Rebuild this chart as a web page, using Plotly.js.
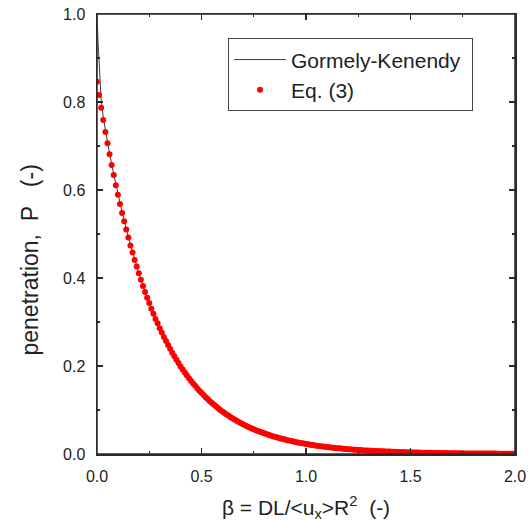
<!DOCTYPE html>
<html>
<head>
<meta charset="utf-8">
<script src="https://cdn.plot.ly/plotly-3.0.1.min.js"></script>
<style>html,body{margin:0;padding:0;background:#fff;}#chart{width:532px;height:528px;}</style>
</head>
<body>
<div id="chart"></div>
<script>
// Gormely-Kenendy curve
const betaGK = [0, 0.001, 0.003, 0.005, 0.008, 0.012, 0.016, 0.02, 0.03, 0.04, 0.05, 0.06, 0.08, 0.1, 0.12, 0.15, 0.2, 0.25, 0.3, 0.35, 0.4, 0.5, 0.6, 0.7, 0.8, 0.9, 1.0, 1.2, 1.4, 1.6, 1.8, 2.0];
const penGK  = [1.0, 0.975, 0.95, 0.935, 0.91, 0.87, 0.835, 0.805, 0.765, 0.735, 0.708, 0.683, 0.636, 0.592, 0.550, 0.493, 0.411, 0.342, 0.286, 0.238, 0.199, 0.137, 0.095, 0.066, 0.046, 0.032, 0.022, 0.011, 0.0053, 0.0026, 0.0012, 0.0006];

// Eq. (3) points
const betaEq3 = [
0.00,0.01,0.02,0.03,0.04,0.05,0.06,0.07,0.08,0.09,
0.10,0.11,0.12,0.13,0.14,0.15,0.16,0.17,0.18,0.19,
0.20,0.21,0.22,0.23,0.24,0.25,0.26,0.27,0.28,0.29,
0.30,0.31,0.32,0.33,0.34,0.35,0.36,0.37,0.38,0.39,
0.40,0.41,0.42,0.43,0.44,0.45,0.46,0.47,0.48,0.49,
0.50,0.51,0.52,0.53,0.54,0.55,0.56,0.57,0.58,0.59,
0.60,0.61,0.62,0.63,0.64,0.65,0.66,0.67,0.68,0.69,
0.70,0.71,0.72,0.73,0.74,0.75,0.76,0.77,0.78,0.79,
0.80,0.81,0.82,0.83,0.84,0.85,0.86,0.87,0.88,0.89,
0.90,0.91,0.92,0.93,0.94,0.95,0.96,0.97,0.98,0.99,
1.00,1.01,1.02,1.03,1.04,1.05,1.06,1.07,1.08,1.09,
1.10,1.11,1.12,1.13,1.14,1.15,1.16,1.17,1.18,1.19,
1.20,1.21,1.22,1.23,1.24,1.25,1.26,1.27,1.28,1.29,
1.30,1.31,1.32,1.33,1.34,1.35,1.36,1.37,1.38,1.39,
1.40,1.41,1.42,1.43,1.44,1.45,1.46,1.47,1.48,1.49,
1.50,1.51,1.52,1.53,1.54,1.55,1.56,1.57,1.58,1.59,
1.60,1.61,1.62,1.63,1.64,1.65,1.66,1.67,1.68,1.69,
1.70,1.71,1.72,1.73,1.74,1.75,1.76,1.77,1.78,1.79,
1.80,1.81,1.82,1.83,1.84,1.85,1.86,1.87,1.88,1.89,
1.90,1.91,1.92,1.93,1.94,1.95,1.96,1.97,1.98,1.99,
2.00];
const penEq3 = [
0.846,0.816,0.787,0.759,0.732,0.706,0.681,0.657,0.634,0.611,
0.589,0.568,0.548,0.529,0.510,0.492,0.474,0.458,0.441,0.426,
0.411,0.396,0.382,0.368,0.355,0.343,0.330,0.319,0.307,0.297,
0.286,0.276,0.266,0.257,0.248,0.239,0.230,0.222,0.214,0.207,
0.199,0.192,0.185,0.179,0.172,0.166,0.160,0.155,0.149,0.144,
0.139,0.134,0.129,0.125,0.120,0.116,0.112,0.108,0.104,0.100,
0.0967,0.0933,0.0900,0.0868,0.0837,0.0807,0.0779,0.0751,0.0724,0.0699,
0.0673,0.0649,0.0626,0.0604,0.0582,0.0562,0.0542,0.0523,0.0504,0.0486,
0.0469,0.0452,0.0436,0.0421,0.0406,0.0391,0.0378,0.0364,0.0351,0.0339,
0.0327,0.0315,0.0304,0.0293,0.0283,0.0273,0.0263,0.0254,0.0245,0.0236,
0.0228,0.0220,0.0212,0.0205,0.0197,0.0190,0.0184,0.0177,0.0171,0.0165,
0.0159,0.0153,0.0148,0.0143,0.0138,0.0133,0.0128,0.0123,0.0119,0.0115,
0.0110,0.0106,0.0102,0.0099,0.0095,0.0092,0.0089,0.0085,0.0082,0.0079,
0.0077,0.0074,0.0072,0.0069,0.0067,0.0064,0.0062,0.0060,0.0058,0.0056,
0.0054,0.0052,0.0050,0.0048,0.0047,0.0045,0.0043,0.0042,0.0040,0.0039,
0.0037,0.0036,0.0034,0.0033,0.0032,0.0031,0.0030,0.0029,0.0028,0.0027,
0.0026,0.0025,0.0024,0.0023,0.0022,0.0022,0.0021,0.0020,0.0019,0.0019,
0.0018,0.0017,0.0017,0.0016,0.0016,0.0015,0.0014,0.0014,0.0013,0.0013,
0.0013,0.0012,0.0012,0.0011,0.0011,0.0010,0.0010,0.0010,0.0009,0.0009,
0.0009,0.0009,0.0008,0.0008,0.0008,0.0007,0.0007,0.0007,0.0007,0.0006,
0.0006];

const xTickVals = [0, 0.5, 1.0, 1.5, 2.0];
const xTickText = ["0.0", "0.5", "1.0", "1.5", "2.0"];
const yTickVals = [0, 0.2, 0.4, 0.6, 0.8, 1.0];
const yTickText = ["0.0", "0.2", "0.4", "0.6", "0.8", "1.0"];

const axisColor = '#2b2b2b';
const font = 'Arial, "Liberation Sans", sans-serif';

const traces = [
  {
    x: betaGK, y: penGK, type: 'scatter', mode: 'lines', name: 'Gormely-Kenendy&nbsp;',
    line: {color: '#3a3a3a', width: 1}
  },
  {
    x: betaEq3, y: penEq3, type: 'scatter', mode: 'markers', name: 'Eq. (3)',
    marker: {color: '#ff0000', size: 6, line: {width: 0}}
  }
];

const commonAxis = {
  showgrid: false, zeroline: false, showline: true, linecolor: axisColor, linewidth: 1.5,
  ticks: 'inside', ticklen: 6, tickwidth: 1.5, tickcolor: axisColor, mirror: 'allticks',
  tickfont: {family: font, size: 16, color: '#222'}, ticklabelstandoff: 7
};

const layout = {
  width: 532, height: 528,
  margin: {l: 97, r: 17, t: 14, b: 74},
  paper_bgcolor: '#fff', plot_bgcolor: '#fff',
  font: {family: font, color: '#222'},
  showlegend: true,
  legend: {
    x: 0.313, y: 0.945, xanchor: 'left', yanchor: 'top',
    bordercolor: '#444', borderwidth: 1.2, bgcolor: '#fff',
    font: {family: font, size: 21, color: '#222'},
    itemwidth: 52, tracegroupgap: 0
  },
  xaxis: Object.assign({}, commonAxis, {
    range: [0, 2.0], tickvals: xTickVals, ticktext: xTickText,
    minor: {tickvals: [0.25, 0.75, 1.25, 1.75], ticks: 'inside', ticklen: 3, tickwidth: 1.2, tickcolor: axisColor},
    title: {text: 'β = DL/&lt;u<sub>x</sub>&gt;R<sup>2</sup>  (-)', font: {family: font, size: 21, color: '#222'}, standoff: 16}
  }),
  yaxis: Object.assign({}, commonAxis, {
    range: [0, 1.0], tickvals: yTickVals, ticktext: yTickText,
    minor: {tickvals: [0.1, 0.3, 0.5, 0.7, 0.9], ticks: 'inside', ticklen: 3, tickwidth: 1.2, tickcolor: axisColor}
  }),
  annotations: [{
    xref: 'paper', yref: 'paper', x: -0.160, y: 0.44, xanchor: 'center', yanchor: 'middle',
    textangle: -90, showarrow: false,
    text: 'penetration,&nbsp; P &nbsp;&nbsp;(-)',
    font: {family: font, size: 23, color: '#222'}
  }],
  shapes: [{
    type: 'rect', xref: 'paper', yref: 'paper', x0: 0, x1: 1, y0: 0, y1: 1,
    line: {color: axisColor, width: 1.5}, fillcolor: 'rgba(0,0,0,0)', layer: 'above'
  }]
};

Plotly.newPlot('chart', traces, layout, {displayModeBar: false, staticPlot: true});
</script>
</body>
</html>
